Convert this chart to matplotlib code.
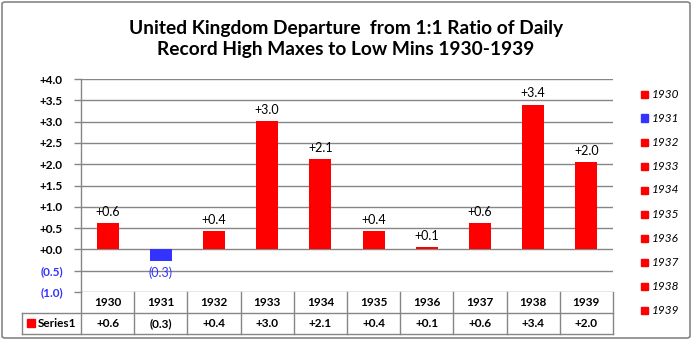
import matplotlib
matplotlib.use("Agg")
import matplotlib.pyplot as plt
from matplotlib.patches import Rectangle, FancyBboxPatch

years = ["1930", "1931", "1932", "1933", "1934", "1935", "1936", "1937", "1938", "1939"]
values = [0.61, -0.27, 0.43, 3.02, 2.12, 0.43, 0.05, 0.62, 3.40, 2.04]
labels = ["+0.6", "(0.3)", "+0.4", "+3.0", "+2.1", "+0.4", "+0.1", "+0.6", "+3.4", "+2.0"]
yticks = [-1.0, -0.5, 0.0, 0.5, 1.0, 1.5, 2.0, 2.5, 3.0, 3.5, 4.0]
yticklabels = ["(1.0)", "(0.5)", "+0.0", "+0.5", "+1.0", "+1.5", "+2.0", "+2.5", "+3.0", "+3.5", "+4.0"]
title = "United Kingdom Departure  from 1:1 Ratio of Daily\nRecord High Maxes to Low Mins 1930-1939"
series_name = "Series1"

RED = "#FF0000"
BLUE = "#3333FF"
GRID = "#868686"
FONT = "Lato"

W, H = 693, 341
fig = plt.figure(figsize=(W / 100, H / 100), dpi=100)

def fx(px):
    return px / W

def fy(py):
    return 1 - py / H

x_left, x_right = 81, 613
y_top, y_bot = 79, 292
ax = fig.add_axes([fx(x_left), fy(y_bot), fx(x_right) - fx(x_left), fy(y_top) - fy(y_bot)])
ax.set_xlim(0, len(years))
ax.set_ylim(-1.0, 4.0)

colors = [RED if v >= 0 else BLUE for v in values]
xs = [i + 0.5 for i in range(len(years))]
ax.bar(xs, values, width=0.41, color=colors, zorder=3)

for x, v, lab, c in zip(xs, values, labels, colors):
    if v >= 0:
        ax.text(x, v + 0.12, lab, ha="center", va="bottom", fontsize=9,
                family=FONT, color="black")
    else:
        ax.text(x, v - 0.12, lab, ha="center", va="top", fontsize=9,
                family=FONT, color=BLUE)

ax.set_yticks(yticks)
ax.set_yticklabels(yticklabels, family=FONT, fontweight="bold", fontsize=8.5)
for t, v in zip(ax.get_yticklabels(), yticks):
    t.set_color(BLUE if v < 0 else "black")
ax.tick_params(axis="y", length=5, color=GRID, width=1, pad=8)
ax.set_xticks([])
ax.grid(axis="y", color=GRID, linewidth=1, zorder=0)
for s in ["top", "right", "bottom"]:
    ax.spines[s].set_visible(False)
ax.spines["left"].set_color(GRID)
ax.spines["left"].set_linewidth(1)

# Data table
cat_w = (x_right - x_left) / len(years)
row1_top, row1_bot, row2_bot = 292, 313, 334
tbl_left = 22
lw = 1
def hline(y, x0, x1):
    fig.add_artist(plt.Line2D([fx(x0), fx(x1)], [fy(y), fy(y)], color=GRID, lw=lw))
def vline(x, y0, y1):
    fig.add_artist(plt.Line2D([fx(x), fx(x)], [fy(y0), fy(y1)], color=GRID, lw=lw))

hline(row1_bot, tbl_left, x_right)
hline(row2_bot, tbl_left, x_right)
vline(tbl_left, row1_bot, row2_bot)
vline(x_left, row1_top, row2_bot)
for i in range(1, len(years) + 1):
    vline(x_left + i * cat_w, row1_top, row2_bot)
for i, (yr, lab) in enumerate(zip(years, labels)):
    cx = x_left + (i + 0.5) * cat_w
    fig.text(fx(cx), fy((row1_top + row1_bot) / 2), yr, ha="center", va="center",
             fontsize=8.5, family=FONT, fontweight="bold")
    fig.text(fx(cx), fy((row1_bot + row2_bot) / 2), lab, ha="center", va="center",
             fontsize=8.5, family=FONT, fontweight="bold")
fig.add_artist(Rectangle((fx(27), fy(327)), fx(8), fy(319) - fy(327), color=RED))
fig.text(fx(38), fy((row1_bot + row2_bot) / 2), series_name, ha="left", va="center",
         fontsize=8.5, family=FONT, fontweight="bold")

# Legend on right
for i, (yr, c) in enumerate(zip(years, colors)):
    yc = 94 + i * 24
    fig.add_artist(Rectangle((fx(641), fy(yc + 3.5)), fx(7), fy(yc - 3.5) - fy(yc + 3.5), color=c))
    fig.text(fx(652), fy(yc), yr, ha="left", va="center", fontsize=8.5,
             family=FONT, style="italic")

# Title
fig.text(fx(346), fy(39), title, ha="center", va="center", fontsize=13.8,
         family=FONT, fontweight="bold", linespacing=1.3)

# Outer border
fig.add_artist(FancyBboxPatch((fx(2), fy(338)), fx(688), fy(2) - fy(338),
                              boxstyle="round,pad=0,rounding_size=0.005",
                              fill=False, edgecolor=GRID, lw=1.2))

fig.savefig("out.png", dpi=100)
